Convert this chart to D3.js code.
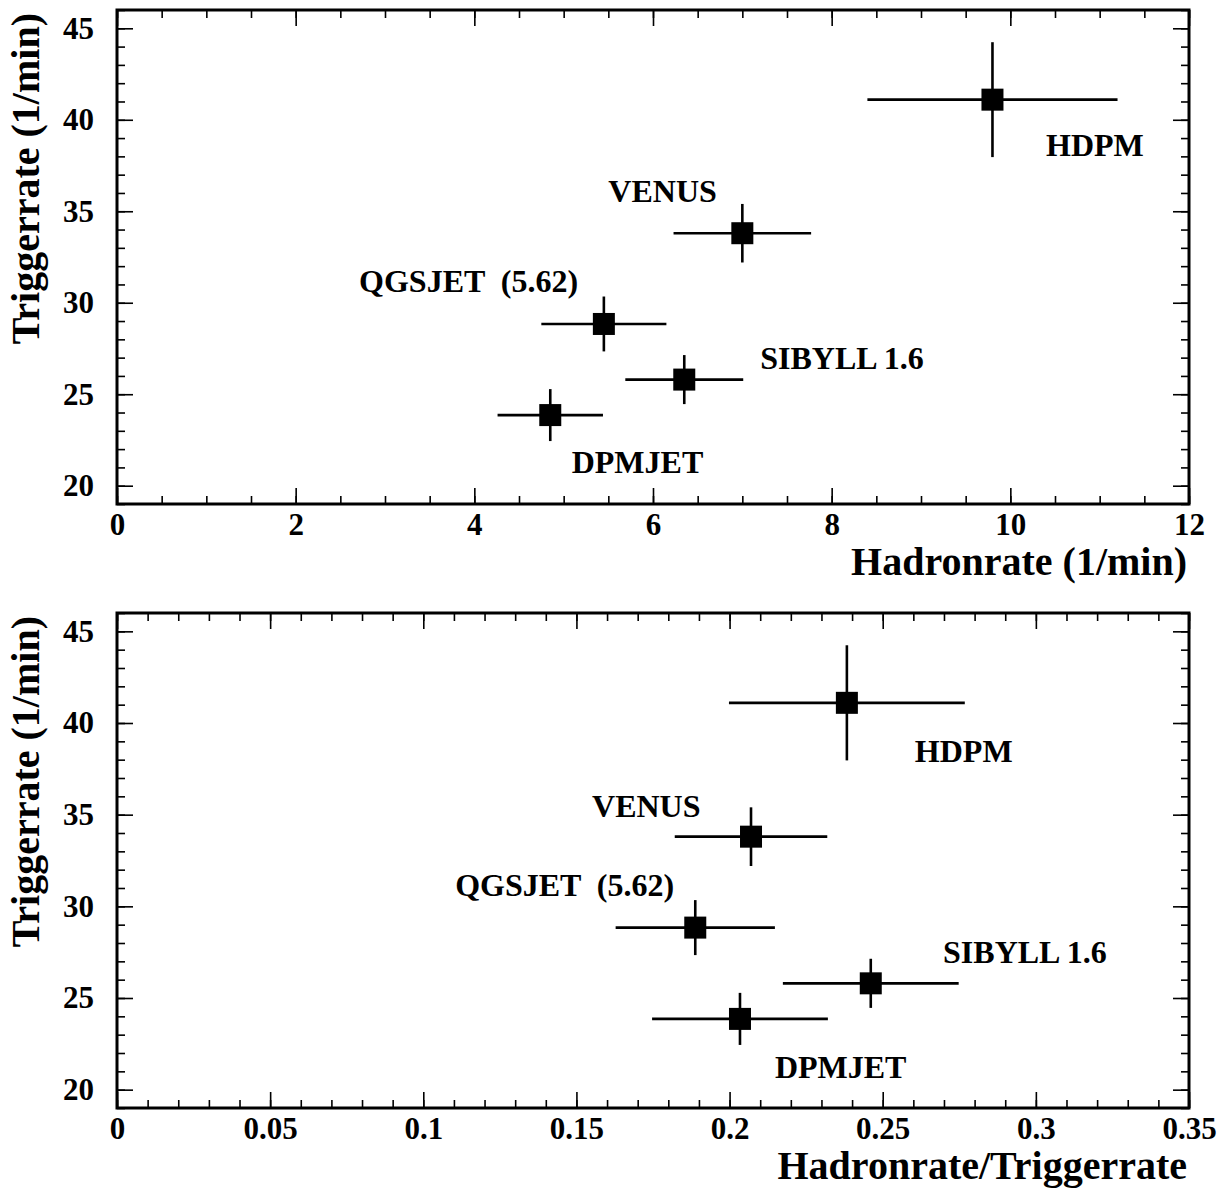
<!DOCTYPE html>
<html>
<head>
<meta charset="utf-8">
<script src="https://cdn.jsdelivr.net/npm/d3@7"></script>
<style>
  body { margin: 0; background: #fff; }
  svg text { font-family: "Liberation Serif", "Times New Roman", serif; font-weight: bold; fill: #000; }
</style>
</head>
<body>
<svg id="chart" width="1230" height="1188"></svg>
<script>
// Interaction models and their simulated rates
const models = ["HDPM", "VENUS", "QGSJET  (5.62)", "SIBYLL 1.6", "DPMJET"];
const triggerRate = [41.1, 33.8, 28.84, 25.8, 23.86];        // 1/min
const triggerErr = [3.14, 1.6, 1.5, 1.34, 1.42];
const hadronRate = [9.80, 7.00, 5.45, 6.35, 4.85];           // 1/min
const hadronErr = [1.40, 0.77, 0.70, 0.66, 0.59];
const hadronPerTrigger = [0.2383, 0.2070, 0.1888, 0.2461, 0.2034];
const hadronPerTriggerErr = [0.0385, 0.0249, 0.0260, 0.0287, 0.0287];

// Axis tick labels
const triggerTicks = [20, 25, 30, 35, 40, 45];
const hadronTicks = [0, 2, 4, 6, 8, 10, 12];
const ratioTicks = [0, 0.05, 0.1, 0.15, 0.2, 0.25, 0.3, 0.35];

const svg = d3.select("#chart");
const L = 117, R = 1189;
const FS_TICK = 31, FS_TITLE = 40, FS_LABEL = 32;

const panels = [
  {
    top: 10, bottom: 504,
    xDomain: [0, 12], xMajor: hadronTicks, xMinorStep: 0.5,
    xs: hadronRate, xe: hadronErr,
    xTitle: "Hadronrate (1/min)",
    // label anchors (left end of baseline) in data coordinates
    labelPos: [[10.40, 38.0], [5.50, 35.5], [2.71, 30.6], [7.20, 26.4], [5.09, 20.7]]
  },
  {
    top: 613, bottom: 1108,
    xDomain: [0, 0.35], xMajor: ratioTicks, xMinorStep: 0.01,
    xs: hadronPerTrigger, xe: hadronPerTriggerErr,
    xTitle: "Hadronrate/Triggerrate",
    labelPos: [[0.2605, 37.9], [0.1551, 34.9], [0.1104, 30.54], [0.2697, 26.93], [0.2148, 20.64]]
  }
];

function styleAxis(g) {
  g.select(".domain").remove();
  g.selectAll(".tick line").attr("stroke", "#000").attr("stroke-width", 1.6);
  g.selectAll(".tick text").style("font-size", FS_TICK + "px")
    .style("font-family", '"Liberation Serif", "Times New Roman", serif')
    .style("font-weight", "bold");
}

panels.forEach(p => {
  const x = d3.scaleLinear().domain(p.xDomain).range([L, R]);
  const y = d3.scaleLinear().domain([19, 46]).range([p.bottom, p.top]);
  const g = svg.append("g");

  const xMinor = d3.range(p.xDomain[0], p.xDomain[1] + p.xMinorStep / 2, p.xMinorStep);
  const yMinor = d3.range(19, 46.5, 1);

  // bottom edge: minor and labelled major ticks, pointing inward
  g.append("g").attr("transform", `translate(0,${p.bottom})`)
    .call(d3.axisBottom(x).tickValues(xMinor).tickSize(-8).tickFormat(""))
    .call(styleAxis);
  g.append("g").attr("transform", `translate(0,${p.bottom})`)
    .call(d3.axisBottom(x).tickValues(p.xMajor).tickSizeInner(-16).tickSizeOuter(0)
      .tickPadding(9).tickFormat(d => String(d)))
    .call(styleAxis);
  // top edge mirror ticks
  g.append("g").attr("transform", `translate(0,${p.top})`)
    .call(d3.axisBottom(x).tickValues(xMinor).tickSize(8).tickFormat(""))
    .call(styleAxis);
  g.append("g").attr("transform", `translate(0,${p.top})`)
    .call(d3.axisBottom(x).tickValues(p.xMajor).tickSize(16).tickFormat(""))
    .call(styleAxis);

  // left edge
  g.append("g").attr("transform", `translate(${L},0)`)
    .call(d3.axisLeft(y).tickValues(yMinor).tickSize(-8).tickFormat(""))
    .call(styleAxis);
  g.append("g").attr("transform", `translate(${L},0)`)
    .call(d3.axisLeft(y).tickValues(triggerTicks).tickSizeInner(-16).tickSizeOuter(0)
      .tickPadding(23).tickFormat(d => String(d)))
    .call(styleAxis);
  // right edge mirror ticks
  g.append("g").attr("transform", `translate(${R},0)`)
    .call(d3.axisLeft(y).tickValues(yMinor).tickSize(8).tickFormat(""))
    .call(styleAxis);
  g.append("g").attr("transform", `translate(${R},0)`)
    .call(d3.axisLeft(y).tickValues(triggerTicks).tickSize(16).tickFormat(""))
    .call(styleAxis);

  // frame
  g.append("rect")
    .attr("x", L).attr("y", p.top)
    .attr("width", R - L).attr("height", p.bottom - p.top)
    .attr("fill", "none").attr("stroke", "#000").attr("stroke-width", 3);

  // error bars and markers
  const pts = g.append("g").selectAll("g").data(models.map((m, i) => i)).join("g");
  pts.append("line")
    .attr("x1", i => x(p.xs[i] - p.xe[i])).attr("x2", i => x(p.xs[i] + p.xe[i]))
    .attr("y1", i => y(triggerRate[i])).attr("y2", i => y(triggerRate[i]))
    .attr("stroke", "#000").attr("stroke-width", 2.6);
  pts.append("line")
    .attr("x1", i => x(p.xs[i])).attr("x2", i => x(p.xs[i]))
    .attr("y1", i => y(triggerRate[i] - triggerErr[i])).attr("y2", i => y(triggerRate[i] + triggerErr[i]))
    .attr("stroke", "#000").attr("stroke-width", 2.6);
  const M = 22;
  pts.append("rect")
    .attr("x", i => x(p.xs[i]) - M / 2).attr("y", i => y(triggerRate[i]) - M / 2)
    .attr("width", M).attr("height", M).attr("fill", "#000");

  // model names
  g.append("g").selectAll("text").data(models.map((m, i) => i)).join("text")
    .attr("x", i => x(p.labelPos[i][0])).attr("y", i => y(p.labelPos[i][1]))
    .style("font-size", FS_LABEL + "px").style("white-space", "pre")
    .text(i => models[i]);

  // axis titles
  g.append("text")
    .attr("x", R - 2).attr("y", p.bottom + 71)
    .attr("text-anchor", "end").style("font-size", FS_TITLE + "px")
    .text(p.xTitle);
  g.append("text")
    .attr("transform", `translate(39,${p.top + 3}) rotate(-90)`)
    .attr("text-anchor", "end").style("font-size", FS_TITLE + "px")
    .text("Triggerrate (1/min)");
});
</script>
</body>
</html>
